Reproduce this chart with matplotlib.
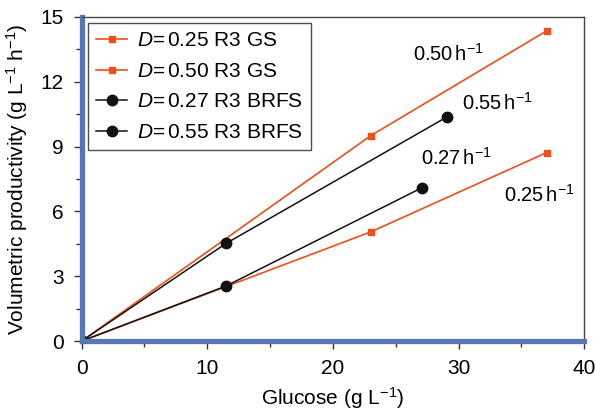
import matplotlib
matplotlib.use("Agg")
import matplotlib.pyplot as plt
from matplotlib.ticker import MultipleLocator

plt.rcParams['font.family'] = ['Liberation Sans', 'DejaVu Sans']
plt.rcParams['mathtext.fontset'] = 'custom'
plt.rcParams['mathtext.rm'] = 'Liberation Sans'
plt.rcParams['mathtext.it'] = 'Liberation Sans:italic'

# data
gs25_x = [0, 23.0, 37.0]
gs25_y = [0, 5.05, 8.72]
gs50_x = [0, 23.0, 37.0]
gs50_y = [0, 9.5, 14.35]
brfs27_x = [0, 11.5, 27.1]
brfs27_y = [0, 2.55, 7.1]
brfs55_x = [0, 11.5, 29.1]
brfs55_y = [0, 4.52, 10.38]

labels = [r'$D$=$\,$0.25 R3 GS', r'$D$=$\,$0.50 R3 GS',
          r'$D$=$\,$0.27 R3 BRFS', r'$D$=$\,$0.55 R3 BRFS']
rate_text = ['0.50', '0.55', '0.27', '0.25']
rate_pos = [(26.4, 13.3), (30.3, 11.0), (27.0, 8.5), (33.6, 6.75)]

orange = '#ee4f1a'
blue = '#5578b4'
fs = 15

fig = plt.figure(figsize=(5.95, 4.11), dpi=100)
ax = fig.add_axes([0.137, 0.170, 0.845, 0.789])

ax.plot(gs25_x, gs25_y, color=orange, lw=1.2, marker='s', ms=5, label=labels[0])
ax.plot(gs50_x, gs50_y, color=orange, lw=1.2, marker='s', ms=5, label=labels[1])
ax.plot(brfs27_x, brfs27_y, color='#111111', lw=1.1, marker='o', ms=7.5, label=labels[2])
ax.plot(brfs55_x, brfs55_y, color='#111111', lw=1.1, marker='o', ms=7.5, label=labels[3])

for t, (px, py) in zip(rate_text, rate_pos):
    ax.text(px, py, t + r'$\,$h$^{-1}$', fontsize=fs - 0.5, va='center', ha='left')

ax.set_xlim(0, 40)
ax.set_ylim(0, 15)
ax.xaxis.set_major_locator(MultipleLocator(10))
ax.xaxis.set_minor_locator(MultipleLocator(5))
ax.yaxis.set_major_locator(MultipleLocator(3))
ax.yaxis.set_minor_locator(MultipleLocator(1.5))
ax.tick_params(which='major', direction='out', length=6, width=1, labelsize=fs, color='#333333')
ax.tick_params(axis='x', which='major', pad=7)
ax.tick_params(axis='y', which='major', pad=7)
ax.tick_params(which='minor', direction='out', length=4, width=1, color='#333333')

for s in ['left', 'bottom']:
    ax.spines[s].set_color(blue)
    ax.spines[s].set_linewidth(3.8)
for s in ['top', 'right']:
    ax.spines[s].set_color('#444444')
    ax.spines[s].set_linewidth(1.0)

ax.set_xlabel(r'Glucose (g L$^{-1}$)', fontsize=fs, labelpad=5)
ax.set_ylabel(r'Volumetric productivity (g L$^{-1}$ h$^{-1}$)', fontsize=fs, labelpad=7)

leg = ax.legend(loc='upper left', fontsize=fs, fancybox=False, frameon=True,
                edgecolor='#222222', handlelength=1.5, borderaxespad=0.3,
                labelspacing=0.55, handletextpad=0.45, borderpad=0.4)
leg.get_frame().set_linewidth(1.0)

fig.savefig('out.png', dpi=100)
